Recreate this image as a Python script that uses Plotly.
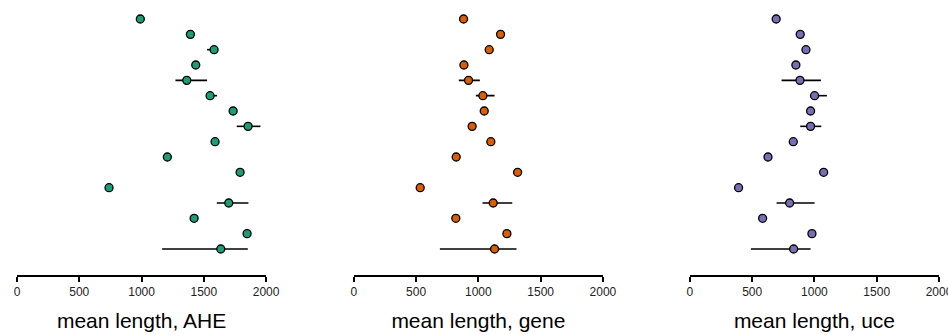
import plotly.graph_objects as go

rows = list(range(1, 17))  # top to bottom

ahe_mean = [990, 1392, 1582, 1435, 1363, 1550, 1735, 1855, 1590, 1207, 1791, 739, 1700, 1422, 1847, 1636]
ahe_lo   = [990, 1392, 1526, 1435, 1272, 1530, 1735, 1764, 1590, 1207, 1791, 739, 1604, 1422, 1847, 1165]
ahe_hi   = [990, 1392, 1600, 1435, 1526, 1606, 1735, 1954, 1590, 1207, 1791, 739, 1858, 1422, 1847, 1853]

gene_mean = [881, 1178, 1087, 884, 921, 1036, 1047, 950, 1100, 822, 1315, 533, 1119, 819, 1229, 1130]
gene_lo   = [881, 1178, 1087, 884, 843, 980, 1047, 950, 1100, 822, 1315, 533, 1033, 819, 1229, 691]
gene_hi   = [881, 1178, 1087, 884, 1012, 1130, 1047, 950, 1100, 822, 1315, 533, 1272, 819, 1229, 1306]

uce_mean = [693, 886, 932, 851, 884, 1001, 969, 969, 830, 627, 1074, 391, 801, 584, 980, 833]
uce_lo   = [693, 886, 932, 851, 736, 975, 969, 886, 830, 627, 1074, 391, 696, 584, 980, 490]
uce_hi   = [693, 886, 932, 851, 1052, 1100, 969, 1055, 830, 627, 1074, 391, 1001, 584, 980, 969]

titles = ["mean length, AHE", "mean length, gene", "mean length, uce"]
colors = ["#1b9e77", "#d95f02", "#7570b3"]
tick_vals = [0, 500, 1000, 1500, 2000]
tick_text = ["0", "500", "1000", "1500", "2000"]

series = [(ahe_mean, ahe_lo, ahe_hi), (gene_mean, gene_lo, gene_hi), (uce_mean, uce_lo, uce_hi)]
domains = [[0, 0.2702], [0.3653, 0.6355], [0.7298, 1.0]]

n = len(rows)
ypos = [n - r for r in rows]

fig = go.Figure()
for i, (m, lo, hi) in enumerate(series):
    ax = "" if i == 0 else str(i + 1)
    fig.add_trace(go.Scatter(
        x=m, y=ypos, mode="markers",
        xaxis="x" + ax, yaxis="y" + ax,
        marker=dict(size=8, color=colors[i], line=dict(color="black", width=1.3)),
        error_x=dict(type="data", symmetric=False,
                     array=[h - v for h, v in zip(hi, m)],
                     arrayminus=[v - l for v, l in zip(m, lo)],
                     color="black", thickness=1.6, width=0),
        showlegend=False, hoverinfo="x",
        cliponaxis=False,
    ))

layout = dict(
    width=948, height=335,
    margin=dict(l=17, r=9, t=0, b=60, autoexpand=False),
    paper_bgcolor="white", plot_bgcolor="white",
    font=dict(family="Liberation Sans, Arial, sans-serif", color="#000000"),
    showlegend=False,
)
for i in range(3):
    ax = "" if i == 0 else str(i + 1)
    layout["xaxis" + ax] = dict(
        domain=domains[i], range=[0, 2000], anchor="y" + ax,
        tickvals=tick_vals, ticktext=tick_text,
        ticks="outside", ticklen=5, tickwidth=1.5, tickcolor="black",
        showline=True, linecolor="black", linewidth=1.5,
        showgrid=False, zeroline=False, automargin=False,
        ticklabeloverflow="allow",
        tickfont=dict(size=12, color="#222222"),
        title=dict(text=titles[i], font=dict(size=21, color="#000000"), standoff=15),
    )
    layout["yaxis" + ax] = dict(
        range=[-1.696, 16.24], visible=False, showgrid=False, zeroline=False,
        anchor="x" + ax, automargin=False,
    )
fig.update_layout(**layout)
fig.write_html(
    "out.html",
    config={"displayModeBar": False},
    post_script="document.body.style.margin='0';document.body.style.overflow='hidden';",
)
